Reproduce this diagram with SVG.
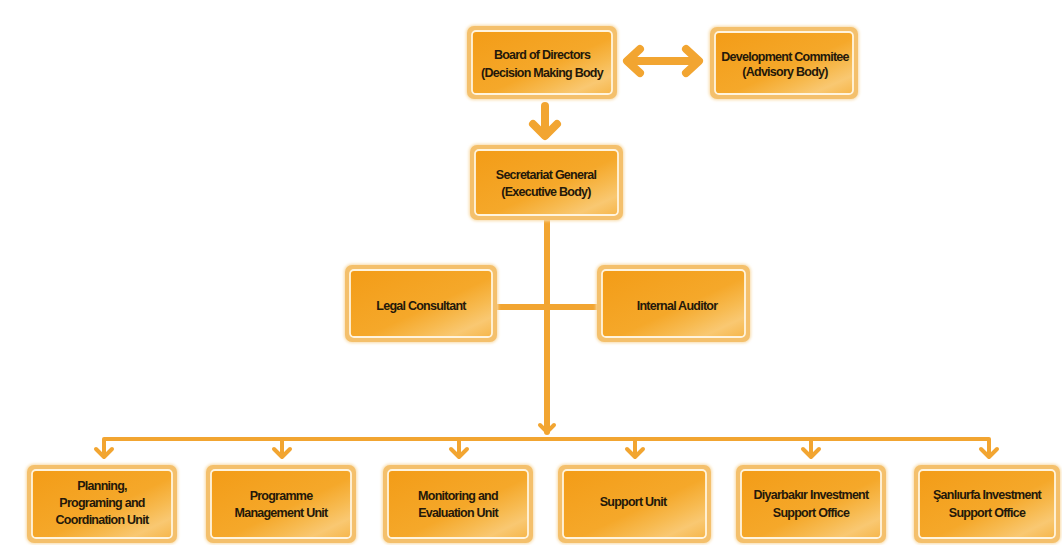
<svg xmlns="http://www.w3.org/2000/svg" width="1062" height="545" viewBox="0 0 1062 545">
<defs>
<linearGradient id="fill" x1="0" y1="0" x2="1" y2="1">
<stop offset="0" stop-color="#F39C17"/>
<stop offset="0.55" stop-color="#F5A82A"/>
<stop offset="0.72" stop-color="#F7BA50"/>
<stop offset="0.85" stop-color="#F9C872"/>
<stop offset="1" stop-color="#F6B64A"/>
</linearGradient>
<filter id="glow" x="-10%" y="-10%" width="120%" height="120%">
<feGaussianBlur stdDeviation="1.5"/>
</filter>
</defs>
<style>
.frame{fill:#F4C06C;}
.halo{fill:#F8DBA8;filter:url(#glow);}
.inner{fill:url(#fill);stroke:#FFF4DE;stroke-width:1.8;}
.t{font-family:"Liberation Sans",Arial,sans-serif;font-weight:bold;font-size:12.5px;letter-spacing:-0.75px;fill:#24180A;text-anchor:middle;}
.ln{fill:none;stroke:#F2A531;stroke-linecap:round;stroke-linejoin:round;}
.big{stroke-width:8;}
.mid{stroke-width:6;}
.thin{stroke-width:4;}
</style>
<rect width="1062" height="545" fill="#FFFFFF"/>

<g id="connectors">
<line class="ln big" x1="629" y1="61" x2="697" y2="61"/>
<polyline class="ln big" points="640,49 627,61 640,73"/>
<polyline class="ln big" points="686,49 699,61 686,73"/>
<line class="ln big" x1="545" y1="106" x2="545" y2="135"/>
<polyline class="ln big" points="533,124 545,136 557,124"/>
<line class="ln mid" x1="547" y1="220" x2="547" y2="432" stroke-linecap="butt"/>
<polyline class="ln thin" points="540,425 547,432 554,425"/>
<line class="ln mid" x1="497" y1="307" x2="597" y2="307" stroke-linecap="butt"/>
<polyline class="ln thin" points="104,455 104,439 989,439 989,455"/>
<line class="ln thin" x1="282" y1="439" x2="282" y2="455"/>
<line class="ln thin" x1="459" y1="439" x2="459" y2="455"/>
<line class="ln thin" x1="635" y1="439" x2="635" y2="455"/>
<line class="ln thin" x1="811" y1="439" x2="811" y2="455"/>
<polyline class="ln thin" points="96,449 104,457 112,449"/>
<polyline class="ln thin" points="274,449 282,457 290,449"/>
<polyline class="ln thin" points="451,449 459,457 467,449"/>
<polyline class="ln thin" points="627,449 635,457 643,449"/>
<polyline class="ln thin" points="803,449 811,457 819,449"/>
<polyline class="ln thin" points="981,449 989,457 997,449"/>
</g>

<g id="board">
<rect class="halo" x="466" y="25" width="152" height="75" rx="8"/>
<rect class="frame" x="467" y="26" width="150" height="73" rx="7"/>
<rect class="inner" x="472" y="31" width="140" height="63" rx="4"/>
<text class="t" x="542" y="59">Board of Directors</text>
<text class="t" x="542" y="77">(Decision Making Body</text>
</g>

<g id="development">
<rect class="halo" x="709" y="26" width="150" height="74" rx="8"/>
<rect class="frame" x="710" y="27" width="148" height="72" rx="7"/>
<rect class="inner" x="715" y="32" width="138" height="62" rx="4"/>
<text class="t" x="785" y="61">Development Commitee</text>
<text class="t" x="785" y="76">(Advisory Body)</text>
</g>

<g id="secretariat">
<rect class="halo" x="469" y="144" width="155" height="77" rx="8"/>
<rect class="frame" x="470" y="145" width="153" height="75" rx="7"/>
<rect class="inner" x="475" y="150" width="143" height="65" rx="4"/>
<text class="t" x="546" y="179">Secretariat General</text>
<text class="t" x="546" y="196">(Executive Body)</text>
</g>

<g id="legal">
<rect class="halo" x="344" y="264" width="154" height="79" rx="8"/>
<rect class="frame" x="345" y="265" width="152" height="77" rx="7"/>
<rect class="inner" x="350" y="270" width="142" height="67" rx="4"/>
<text class="t" x="421" y="310">Legal Consultant</text>
</g>

<g id="auditor">
<rect class="halo" x="596" y="264" width="155" height="79" rx="8"/>
<rect class="frame" x="597" y="265" width="153" height="77" rx="7"/>
<rect class="inner" x="602" y="270" width="143" height="67" rx="4"/>
<text class="t" x="677" y="310">Internal Auditor</text>
</g>

<g id="planning">
<rect class="halo" x="26" y="464" width="152" height="80" rx="8"/>
<rect class="frame" x="27" y="465" width="150" height="78" rx="7"/>
<rect class="inner" x="32" y="470" width="140" height="68" rx="4"/>
<text class="t" x="102" y="490">Planning,</text>
<text class="t" x="102" y="507">Programing and</text>
<text class="t" x="102" y="524">Coordination Unit</text>
</g>

<g id="programme">
<rect class="halo" x="205" y="464" width="152" height="80" rx="8"/>
<rect class="frame" x="206" y="465" width="150" height="78" rx="7"/>
<rect class="inner" x="211" y="470" width="140" height="68" rx="4"/>
<text class="t" x="281" y="500">Programme</text>
<text class="t" x="281" y="517">Management Unit</text>
</g>

<g id="monitoring">
<rect class="halo" x="382" y="464" width="152" height="80" rx="8"/>
<rect class="frame" x="383" y="465" width="150" height="78" rx="7"/>
<rect class="inner" x="388" y="470" width="140" height="68" rx="4"/>
<text class="t" x="458" y="500">Monitoring and</text>
<text class="t" x="458" y="517">Evaluation Unit</text>
</g>

<g id="support">
<rect class="halo" x="557" y="464" width="155" height="80" rx="8"/>
<rect class="frame" x="558" y="465" width="153" height="78" rx="7"/>
<rect class="inner" x="563" y="470" width="143" height="68" rx="4"/>
<text class="t" x="633" y="506">Support Unit</text>
</g>

<g id="diyarbakir">
<rect class="halo" x="735" y="464" width="152" height="80" rx="8"/>
<rect class="frame" x="736" y="465" width="150" height="78" rx="7"/>
<rect class="inner" x="741" y="470" width="140" height="68" rx="4"/>
<text class="t" x="811" y="499">Diyarbakır Investment</text>
<text class="t" x="811" y="517">Support Office</text>
</g>

<g id="sanliurfa">
<rect class="halo" x="913" y="464" width="148" height="80" rx="8"/>
<rect class="frame" x="914" y="465" width="146" height="78" rx="7"/>
<rect class="inner" x="919" y="470" width="136" height="68" rx="4"/>
<text class="t" x="987" y="499">Şanlıurfa Investment</text>
<text class="t" x="987" y="517">Support Office</text>
</g>
</svg>
